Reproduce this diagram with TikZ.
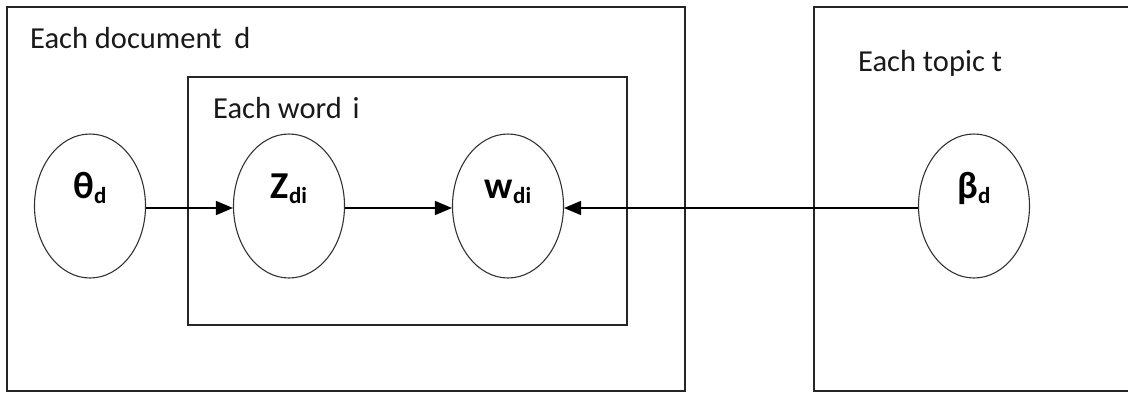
\documentclass[tikz,border=0pt]{standalone}
\usepackage{fontspec}
\setmainfont{Carlito}
\usetikzlibrary{shapes.geometric,arrows.meta}
\begin{document}
\begin{tikzpicture}[x=1pt,y=-1pt,
  plate/.style={draw=black!85,line width=1.6pt},
  rv/.style={draw=black!80,line width=1.1pt,ellipse,minimum width=111pt,minimum height=144pt,inner sep=0pt},
  platelabel/.style={anchor=base west,inner sep=0pt,font=\fontsize{30.5}{34}\selectfont,text=black!90},
  varlabel/.style={anchor=base,inner sep=0pt,font=\bfseries\fontsize{38}{42}\selectfont},
  edge/.style={line width=1.6pt,-{Triangle[length=17pt,width=14pt]}}
]
\useasboundingbox (0,0) rectangle (1128,394);
\fill[white] (0,0) rectangle (1128,394);
% plates
\draw[plate] (7,7) rectangle (685,391);
\draw[plate] (188,77) rectangle (627,325);
\draw[plate] (814,7) rectangle (1140,391);
\node[platelabel] (ldoc) at (30,48) {Each document\hspace{6pt} d};
\node[platelabel] (lword) at (213,118) {Each word\hspace{4pt} i};
\node[platelabel] (ltopic) at (858,71) {Each topic t};
% variables
\node[rv] (th) at (90,206) {};
\node[rv] (z) at (289,206) {};
\node[rv] (w) at (508,206) {};
\node[rv] (b) at (974,206) {};
\newcommand{\sbs}[1]{\raisebox{-5pt}{\fontsize{23}{25}\selectfont #1}}
\node[varlabel] (thl) at ([yshift=8pt]th.center) {θ\sbs{d}};
\node[varlabel] (zl) at ([yshift=8pt]z.center) {Z\sbs{di}};
\node[varlabel] (wl) at ([yshift=8pt]w.center) {w\sbs{di}};
\node[varlabel] (bl) at ([yshift=8pt]b.center) {β\sbs{d}};
% edges
\draw[edge] ([yshift=-2pt]th.east) -- ([yshift=-2pt]z.west);
\draw[edge] ([yshift=-2pt]z.east) -- ([yshift=-2pt]w.west);
\draw[edge] ([yshift=-2pt]b.west) -- ([yshift=-2pt]w.east);
\end{tikzpicture}
\end{document}
